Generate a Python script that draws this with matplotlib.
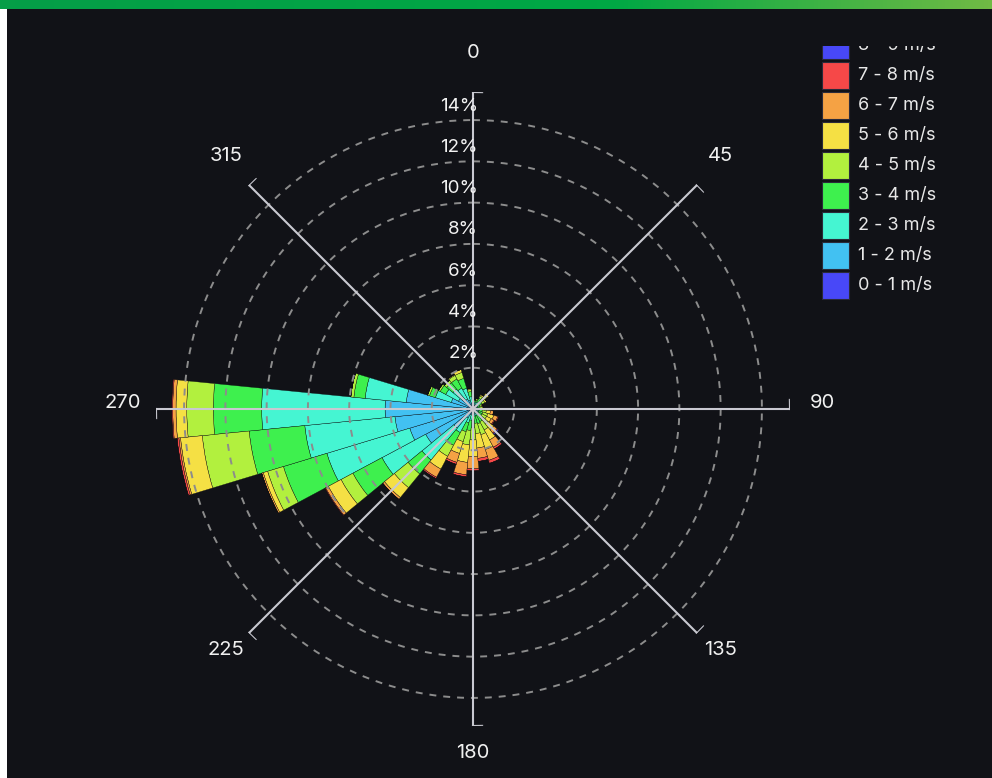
import numpy as np
import matplotlib.pyplot as plt
from matplotlib.patches import Rectangle
from matplotlib.transforms import ScaledTranslation

plt.rcParams['font.family'] = ['Inter', 'DejaVu Sans']
plt.rcParams['lines.scale_dashes'] = False

BG = '#111217'

# wind direction sectors (deg), 32 sectors
directions = np.arange(0, 360, 11.25)

speed_labels = ['0 - 1 m/s', '1 - 2 m/s', '2 - 3 m/s', '3 - 4 m/s', '4 - 5 m/s',
                '5 - 6 m/s', '6 - 7 m/s', '7 - 8 m/s', '8 - 9 m/s']
speed_colors = ['#4848f8', '#42c1f2', '#45f5d2', '#3ef04e', '#b2f03e',
                '#f5e044', '#f5a244', '#f64848', '#4848f8']

# frequency (%) per direction for each speed bin
f_0_1 = [0.05, 0.05, 0.05, 0.05, 0.05, 0.05, 0.05, 0.05, 0.05, 0.05, 0.05, 0.05, 0.05, 0.05, 0.05, 0.05,
         0.05, 0.05, 0.05, 0.10, 0.10, 0.20, 0.20, 0.30, 0.50, 0.30, 0.10, 0.10, 0.05, 0.05, 0.05, 0.05]
f_1_2 = [0.20, 0.15, 0.15, 0.15, 0.15, 0.15, 0.10, 0.10, 0.10, 0.10, 0.10, 0.10, 0.10, 0.10, 0.10, 0.10,
         0.15, 0.20, 0.25, 0.40, 1.10, 2.40, 3.00, 3.50, 3.76, 2.95, 1.00, 0.70, 0.60, 0.50, 0.40, 0.25]
f_2_3 = [0.15, 0.15, 0.15, 0.20, 0.20, 0.15, 0.10, 0.10, 0.10, 0.15, 0.15, 0.15, 0.15, 0.20, 0.20, 0.20,
         0.25, 0.30, 0.40, 0.80, 2.00, 2.40, 4.20, 4.39, 5.98, 2.00, 0.80, 0.70, 0.60, 0.60, 0.60, 0.30]
f_3_4 = [0.07, 0.07, 0.10, 0.20, 0.25, 0.15, 0.10, 0.10, 0.10, 0.15, 0.20, 0.20, 0.30, 0.35, 0.40, 0.35,
         0.45, 0.50, 0.45, 0.70, 0.87, 1.60, 2.20, 2.71, 2.34, 0.55, 0.30, 0.30, 0.40, 0.50, 0.50, 0.25]
f_4_5 = [0.03, 0.03, 0.07, 0.12, 0.20, 0.15, 0.10, 0.10, 0.10, 0.20, 0.25, 0.25, 0.35, 0.45, 0.55, 0.50,
         0.60, 0.70, 0.50, 0.60, 0.86, 0.65, 0.80, 2.28, 1.29, 0.15, 0.10, 0.10, 0.15, 0.20, 0.30, 0.10]
f_5_6 = [0.00, 0.00, 0.03, 0.08, 0.15, 0.10, 0.05, 0.05, 0.10, 0.20, 0.30, 0.25, 0.35, 0.55, 0.75, 0.70,
         0.80, 0.85, 0.60, 0.70, 0.62, 0.70, 0.22, 1.06, 0.52, 0.00, 0.00, 0.00, 0.00, 0.05, 0.15, 0.05]
f_6_7 = [0.00, 0.00, 0.00, 0.00, 0.00, 0.00, 0.00, 0.00, 0.00, 0.15, 0.20, 0.15, 0.20, 0.40, 0.55, 0.50,
         0.60, 0.60, 0.45, 0.45, 0.11, 0.15, 0.08, 0.08, 0.16, 0.00, 0.00, 0.00, 0.00, 0.00, 0.00, 0.00]
f_7_8 = [0.00, 0.00, 0.00, 0.00, 0.00, 0.00, 0.00, 0.00, 0.00, 0.00, 0.05, 0.05, 0.05, 0.10, 0.15, 0.15,
         0.10, 0.10, 0.10, 0.07, 0.01, 0.04, 0.00, 0.09, 0.05, 0.00, 0.00, 0.00, 0.00, 0.00, 0.00, 0.00]
f_8_9 = [0.00, 0.00, 0.00, 0.00, 0.00, 0.00, 0.00, 0.00, 0.00, 0.00, 0.00, 0.00, 0.05, 0.00, 0.00, 0.00,
         0.00, 0.00, 0.00, 0.00, 0.00, 0.00, 0.00, 0.00, 0.00, 0.00, 0.00, 0.00, 0.00, 0.00, 0.00, 0.00]
freqs = [f_0_1, f_1_2, f_2_3, f_3_4, f_4_5, f_5_6, f_6_7, f_7_8, f_8_9]

r_ticks = [2, 4, 6, 8, 10, 12, 14]
angle_ticks = [0, 45, 90, 135, 180, 225, 270, 315]
r_max = 15.36

fig = plt.figure(figsize=(9.92, 7.78), dpi=100, facecolor=BG)

# page chrome: green strip on top, white margin on the left
grad = np.linspace(0, 1, 256)
green = np.zeros((1, 256, 3))
green[0, :, 0] = np.interp(grad, [0, 0.62, 1], [0.02, 0.0, 0.44])
green[0, :, 1] = np.interp(grad, [0, 0.62, 1], [0.62, 0.66, 0.73])
green[0, :, 2] = np.interp(grad, [0, 0.62, 1], [0.28, 0.27, 0.27])
bar_ax = fig.add_axes([0, 1 - 9 / 778, 1, 9 / 778])
bar_ax.imshow(green, aspect='auto')
bar_ax.axis('off')
fig.add_artist(Rectangle((0, 0), 7 / 992, 1 - 9 / 778, transform=fig.transFigure,
                         facecolor='white', edgecolor='none'))

cx, cy, rad = 473, 409, 317
ax = fig.add_axes([(cx - rad) / 992, (778 - cy - rad) / 778, 2 * rad / 992, 2 * rad / 778],
                  projection='polar')
ax.set_facecolor(BG)
ax.set_theta_zero_location('N')
ax.set_theta_direction(-1)
ax.set_ylim(0, r_max)
ax.grid(False)
ax.spines['polar'].set_visible(False)
ax.set_xticks([])
ax.set_yticks([])

theta = np.radians(directions)
width = np.radians(11.25)
bottom = np.zeros(len(directions))
for vals, col in zip(freqs, speed_colors):
    vals = np.array(vals)
    ax.bar(theta, vals, width=width, bottom=bottom, color=col,
           edgecolor='#0d0e12', linewidth=0.25, zorder=2)
    bottom += vals

# dashed range rings
ring_t = np.linspace(0, 2 * np.pi, 400)
for r in r_ticks:
    ax.plot(ring_t, np.full_like(ring_t, r), color='#8c8c8c', lw=1.4,
            dashes=(5, 5), zorder=3)

# direction spokes with small end ticks and labels
tick_len = np.radians(1.65)
lab_off = ScaledTranslation(0, 6 / 100, fig.dpi_scale_trans)
for a in angle_ticks:
    t = np.radians(a)
    ax.plot([t, t], [0, r_max], color='#c9c9d1', lw=1.5, zorder=4, solid_capstyle='butt')
    sgn = 1 if a in (0, 45, 315) else -1
    ax.plot([t, t + sgn * tick_len], [r_max, r_max], color='#c9c9d1', lw=1.5, zorder=4)
    ax.text(t, 16.95, str(a), transform=ax.transData + lab_off, ha='center', va='center',
            color='#f0f0f0', fontsize=14.5, zorder=5)

# percentage labels along the north spoke
off = ScaledTranslation(5 / 100, 14 / 100, fig.dpi_scale_trans)
for r in r_ticks:
    ax.text(0, r, f'{r}%', transform=ax.transData + off, ha='right', va='center',
            color='#f2f2f2', fontsize=13.5, zorder=6)

# legend, clipped at its top edge
lg = fig.add_axes([815 / 992, (778 - 300) / 778, 175 / 992, 254 / 778])
lg.set_xlim(0, 175)
lg.set_ylim(254, 0)
lg.axis('off')
for i, (lab, col) in enumerate(zip(speed_labels, speed_colors)):
    yc = 239 - 30 * i
    lg.add_patch(Rectangle((7, yc - 13.5), 27, 27, facecolor=col, edgecolor='#2a2a3a',
                           lw=0.8, clip_on=True))
    lg.text(43, yc, lab, ha='left', va='center', color='#e8e8e8', fontsize=13,
            clip_on=True)

fig.savefig('out.png', dpi=100, facecolor=BG)
